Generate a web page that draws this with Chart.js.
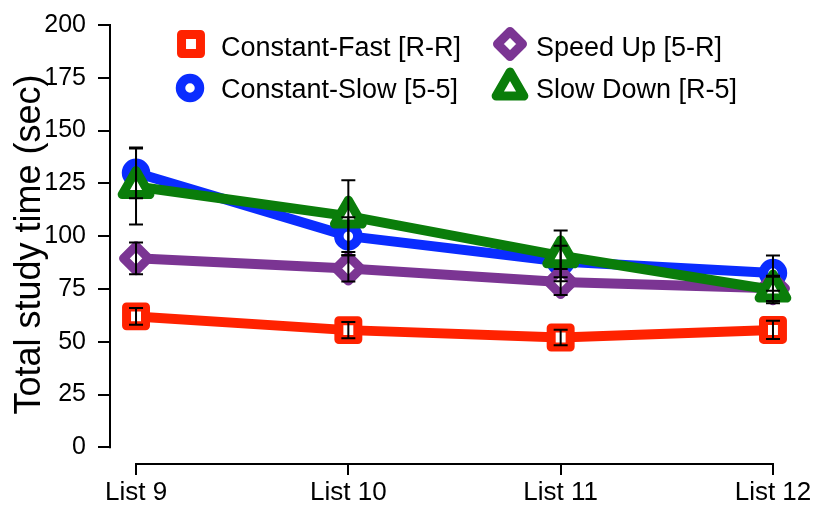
<!DOCTYPE html>
<html>
<head>
<meta charset="utf-8">
<script src="https://cdn.jsdelivr.net/npm/chart.js@4/dist/chart.umd.min.js"></script>
<style>
  html, body { margin: 0; padding: 0; background: #ffffff; }
  #wrap { width: 814px; height: 510px; }
</style>
</head>
<body>
<div id="wrap"><canvas id="c" width="814" height="510"></canvas></div>
<script>
// ---- Data ----
const categories = ['List 9', 'List 10', 'List 11', 'List 12'];
const seriesNames = ['Constant-Fast [R-R]', 'Constant-Slow [5-5]', 'Speed Up [5-R]', 'Slow Down [R-5]'];
const constantFast = [62, 55.5, 52, 55.6];
const constantFastErr = [4, 3.8, 3.7, 4.3];
const constantSlow = [130, 100, 88, 82.5];
const constantSlowErr = [12, 9, 7.5, 8.3];
const speedUp = [89.5, 84.7, 78.3, 75.3];
const speedUpErr = [7.5, 6.2, 6.2, 6];
const slowDown = [123.5, 109.5, 90.7, 74.5];
const slowDownErr = [18, 17, 12, 6.3];
const yTicks = [0, 25, 50, 75, 100, 125, 150, 175, 200];

// ---- Styles ----
const colors = ['#ff2200', '#0a2cff', '#7b3593', '#0a7d0a'];
const styles = [
  { pointStyle: 'rect', radius: 13.4, bw: 9 },
  { pointStyle: 'circle', radius: 9.5, bw: 9.5 },
  { pointStyle: 'rectRot', radius: 12.5, bw: 9 },
  { pointStyle: 'triangle', radius: 16, bw: 9 }
];
const values = [constantFast, constantSlow, speedUp, slowDown];
const errors = [constantFastErr, constantSlowErr, speedUpErr, slowDownErr];
const FONT = "'Liberation Sans', Arial, Helvetica, sans-serif";

const datasets = values.map((vals, i) => ({
  label: seriesNames[i],
  data: vals.map((v, j) => ({ x: j, y: v, err: errors[i][j] })),
  borderColor: colors[i],
  backgroundColor: '#ffffff',
  borderWidth: 10,
  pointStyle: styles[i].pointStyle,
  pointRadius: styles[i].radius,
  pointBorderWidth: styles[i].bw,
  pointBorderColor: colors[i],
  pointBackgroundColor: '#ffffff',
  pointHoverRadius: styles[i].radius,
  borderJoinStyle: 'round',
  borderCapStyle: 'round',
  tension: 0,
  clip: false,
  order: 3 - i
}));

const roundJoin = {
  id: 'roundJoin',
  beforeDatasetsDraw(chart) { chart.ctx.lineJoin = 'round'; }
};

const axisLines = {
  id: 'axisLines',
  beforeDatasetsDraw(chart) {
    const ctx = chart.ctx;
    const x = chart.scales.x, y = chart.scales.y;
    ctx.save();
    ctx.strokeStyle = '#000';
    ctx.lineWidth = 2;
    ctx.lineCap = 'square';
    ctx.beginPath();
    ctx.moveTo(x.left, y.getPixelForValue(yTicks[0]));
    ctx.lineTo(x.left, y.getPixelForValue(yTicks[yTicks.length - 1]));
    ctx.moveTo(x.getPixelForValue(0), y.bottom);
    ctx.lineTo(x.getPixelForValue(categories.length - 1), y.bottom);
    ctx.stroke();
    ctx.restore();
  }
};

const errorBars = {
  id: 'errorBars',
  afterDatasetsDraw(chart) {
    const ctx = chart.ctx;
    const xs = chart.scales.x, ys = chart.scales.y;
    ctx.save();
    ctx.strokeStyle = '#000';
    ctx.lineWidth = 2;
    ctx.lineCap = 'butt';
    chart.data.datasets.forEach(ds => {
      ds.data.forEach(p => {
        const px = xs.getPixelForValue(p.x);
        const top = ys.getPixelForValue(p.y + p.err);
        const bot = ys.getPixelForValue(p.y - p.err);
        ctx.beginPath();
        ctx.moveTo(px, top); ctx.lineTo(px, bot);
        ctx.moveTo(px - 7, top); ctx.lineTo(px + 7, top);
        ctx.moveTo(px - 7, bot); ctx.lineTo(px + 7, bot);
        ctx.stroke();
      });
    });
    ctx.restore();
  }
};

const customLegend = {
  id: 'customLegend',
  afterDraw(chart) {
    const ctx = chart.ctx;
    const pos = [
      { mx: 191, my: 44, tx: 221, ty: 56 },
      { mx: 190, my: 88, tx: 221, ty: 98 },
      { mx: 510, my: 44, tx: 536, ty: 56 },
      { mx: 510, my: 88, tx: 536, ty: 98 }
    ];
    ctx.save();
    ctx.lineJoin = 'round';
    chart.data.datasets.forEach((ds, i) => {
      const p = pos[i];
      ctx.fillStyle = '#ffffff';
      ctx.strokeStyle = colors[i];
      ctx.lineWidth = styles[i].bw;
      Chart.helpers.drawPoint(ctx, { pointStyle: styles[i].pointStyle, radius: styles[i].radius, rotation: 0, borderWidth: styles[i].bw }, p.mx, p.my);
      ctx.fillStyle = '#000';
      ctx.font = '27px ' + FONT;
      ctx.textAlign = 'left';
      ctx.textBaseline = 'alphabetic';
      ctx.fillText(ds.label, p.tx, p.ty);
    });
    ctx.restore();
  }
};

new Chart(document.getElementById('c'), {
  type: 'line',
  data: { datasets },
  options: {
    responsive: false,
    animation: false,
    layout: { padding: { top: 17, right: 14, bottom: 0, left: 0 } },
    plugins: { legend: { display: false }, tooltip: { enabled: false } },
    events: [],
    scales: {
      x: {
        type: 'linear',
        min: -0.1226,
        max: 3.0755,
        grid: { display: true, drawOnChartArea: false, drawTicks: true, tickLength: 11, color: '#000', lineWidth: 2 },
        border: { display: false },
        ticks: {
          includeBounds: false,
          stepSize: 1,
          autoSkip: false,
          maxRotation: 0,
          padding: 2,
          color: '#000',
          font: { family: FONT, size: 26 },
          callback: v => categories[v] !== undefined ? categories[v] : ''
        },
        afterFit: s => { s.height = 46; s.paddingLeft = 0; s.paddingRight = 0; }
      },
      y: {
        type: 'linear',
        min: -7.9,
        max: 200,
        grid: { display: true, drawOnChartArea: false, drawTicks: true, tickLength: 12, color: '#000', lineWidth: 2 },
        border: { display: false },
        ticks: {
          includeBounds: false,
          stepSize: 25,
          padding: 12,
          color: '#000',
          font: { family: FONT, size: 25 }
        },
        afterBuildTicks: s => { s.ticks = yTicks.map(v => ({ value: v })); },
        title: {
          display: true,
          text: 'Total study time (sec)',
          color: '#000',
          font: { family: FONT, size: 36 },
          padding: { top: 8, bottom: 0 }
        },
        afterFit: s => { s.width = 110; s.paddingTop = 0; s.paddingBottom = 0; }
      }
    }
  },
  plugins: [roundJoin, axisLines, errorBars, customLegend]
});
</script>
</body>
</html>
